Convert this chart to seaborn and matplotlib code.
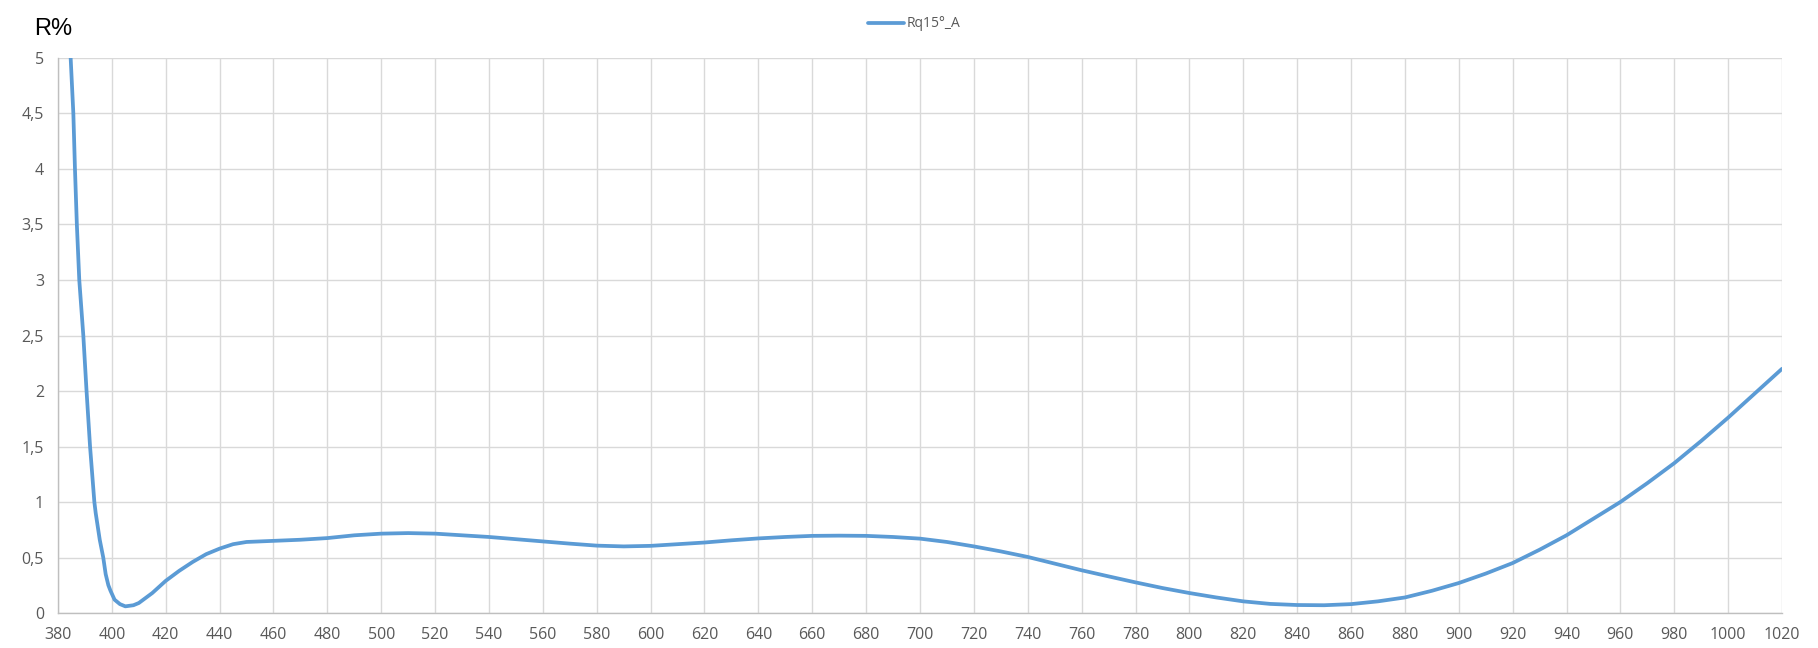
import matplotlib
matplotlib.use("Agg")
import matplotlib.pyplot as plt
import seaborn as sns
import pandas as pd

# Dados: comprimento de onda (nm) e reflexão (%)
wavelength = [384, 384.7, 385.7, 386.3, 387.0, 387.9, 389.4, 390.6, 391.9, 393.5,
              394.0, 395.5, 396.8, 397.7, 398.7, 399.5, 401, 403, 405, 408,
              410, 415, 420, 425, 430, 435, 440, 445, 450, 460,
              470, 480, 490, 500, 510, 520, 530, 540, 550, 560,
              570, 580, 590, 600, 610, 620, 630, 640, 650, 660,
              670, 680, 690, 700, 710, 720, 730, 740, 750, 760,
              770, 780, 790, 800, 810, 820, 830, 840, 850, 860,
              870, 880, 890, 900, 910, 920, 930, 940, 950, 960,
              970, 980, 990, 1000, 1010, 1020]
reflectance = [5.3, 5.0, 4.5, 4.0, 3.5, 3.0, 2.5, 2.0, 1.5, 1.0,
               0.9, 0.66, 0.5, 0.35, 0.25, 0.2, 0.12, 0.08, 0.06, 0.07,
               0.09, 0.18, 0.29, 0.38, 0.46, 0.53, 0.58, 0.62, 0.64, 0.65,
               0.66, 0.675, 0.70, 0.715, 0.72, 0.715, 0.70, 0.685, 0.665, 0.645,
               0.625, 0.607, 0.60, 0.605, 0.62, 0.635, 0.655, 0.672, 0.685, 0.695,
               0.697, 0.695, 0.685, 0.67, 0.64, 0.60, 0.555, 0.505, 0.445, 0.385,
               0.33, 0.276, 0.225, 0.18, 0.14, 0.105, 0.082, 0.072, 0.07, 0.08,
               0.105, 0.14, 0.2, 0.27, 0.355, 0.45, 0.57, 0.70, 0.85, 1.0,
               1.17, 1.35, 1.55, 1.76, 1.98, 2.2]

series_name = "Rq15°_A"
x_ticks = list(range(380, 1021, 20))
y_ticks = [0, 0.5, 1, 1.5, 2, 2.5, 3, 3.5, 4, 4.5, 5]
y_tick_labels = ["0", "0,5", "1", "1,5", "2", "2,5", "3", "3,5", "4", "4,5", "5"]

df = pd.DataFrame({"Wavelength": wavelength, "R": reflectance})

sns.set_style("whitegrid")
plt.rcParams["font.family"] = ["Open Sans", "DejaVu Sans"]

fig = plt.figure(figsize=(18.18, 6.48), dpi=100)
ax = fig.add_axes([0.0319, 0.054, 0.9483, 0.8565])

sns.lineplot(data=df, x="Wavelength", y="R", color="#5B9BD5", linewidth=2.7,
             label=series_name, ax=ax, sort=False)

ax.set_xlim(380, 1020)
ax.set_ylim(0, 5)
ax.set_xticks(x_ticks)
ax.set_yticks(y_ticks)
ax.set_yticklabels(y_tick_labels)
ax.set_xlabel("")
ax.set_ylabel("")

ax.grid(True, color="#D9D9D9", linewidth=1.0)
for side, spine in ax.spines.items():
    spine.set_visible(side in ("left", "bottom"))
    spine.set_color("#BFBFBF")
    spine.set_linewidth(1.0)
ax.tick_params(axis="both", length=0, labelsize=11.5, colors="#595959")
ax.tick_params(axis="y", pad=10)
ax.tick_params(axis="x", pad=10)

# Rótulo do eixo y no canto superior esquerdo
fig.text(0.019, 0.955, "R%", fontsize=17, color="black", ha="left", va="center",
         family=["Liberation Sans", "DejaVu Sans"])

leg = ax.legend(loc="center", bbox_to_anchor=(0.503, 0.963),
                bbox_transform=fig.transFigure, frameon=False, fontsize=10,
                handlelength=2.6, handletextpad=0.2)
for t in leg.get_texts():
    t.set_color("#595959")

fig.savefig("out.png", dpi=100)
